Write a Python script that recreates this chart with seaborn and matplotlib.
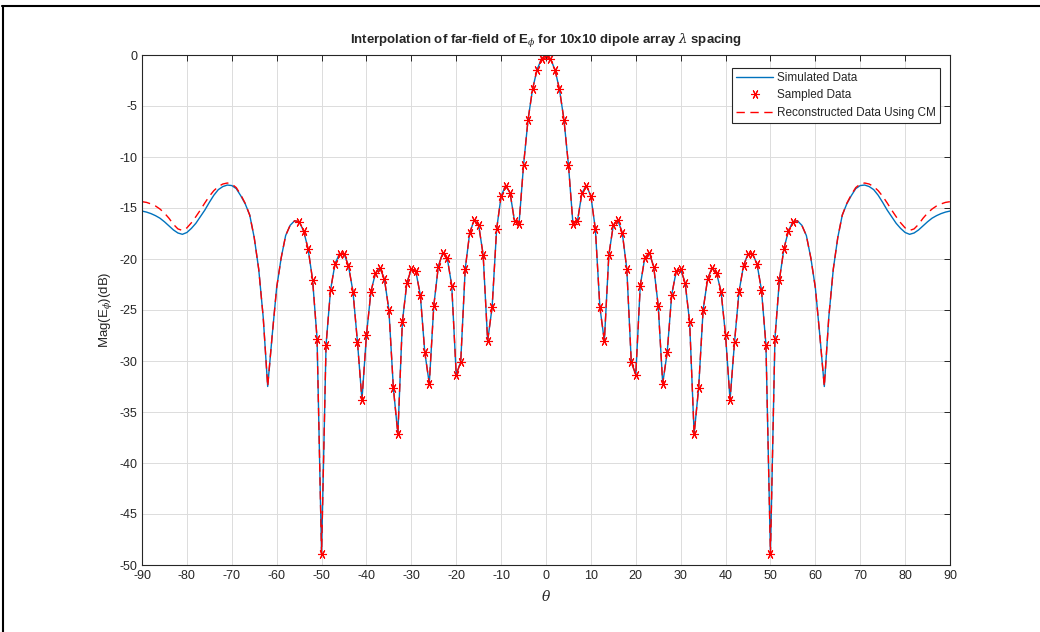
# plot.py
# Far-field interpolation of E_phi for a 10x10 dipole array (MATLAB-style look)

import numpy as np
import pandas as pd
import matplotlib
matplotlib.use("Agg")
import matplotlib.pyplot as plt
from matplotlib.lines import Line2D
import seaborn as sns

# Angles (deg)
theta = list(range(-90, 91))
theta_sampled = list(range(-55, 56))

# Simulated pattern (dB), one value per degree from -90 to 90
sim_db = [
    -15.30, -15.40, -15.55, -15.75, -16.00, -16.35, -16.75, -17.15, -17.45, -17.58,
    -17.40, -17.00, -16.50, -15.85, -15.20, -14.45, -13.75, -13.20, -12.90, -12.75,
    -12.80, -13.10, -13.80, -14.60, -15.70, -17.90, -21.00, -25.70, -32.50, -27.50,
    -22.80, -19.90, -17.70, -16.70, -16.25, -16.34, -17.25, -19.00, -22.03, -27.80,
    -48.90, -28.43, -23.04, -20.47, -19.48, -19.48, -20.67, -23.20, -28.14, -33.82,
    -27.47, -23.20, -21.40, -20.87, -21.95, -25.00, -32.65, -37.16, -26.18, -22.35,
    -21.00, -21.22, -23.52, -29.15, -32.22, -24.60, -20.77, -19.37, -19.90, -22.60,
    -31.34, -30.10, -20.98, -17.45, -16.18, -16.67, -19.60, -28.04, -24.72, -17.08,
    -13.84, -12.80, -13.53, -16.32, -16.52, -10.78, -6.34, -3.37, -1.44, -0.38,
    0.00,
    -0.38, -1.44, -3.37, -6.34, -10.78, -16.52, -16.32, -13.53, -12.80, -13.84,
    -17.08, -24.72, -28.04, -19.60, -16.67, -16.18, -17.45, -20.98, -30.10, -31.34,
    -22.60, -19.90, -19.37, -20.77, -24.60, -32.22, -29.15, -23.52, -21.22, -21.00,
    -22.35, -26.18, -37.16, -32.65, -25.00, -21.95, -20.87, -21.40, -23.20, -27.47,
    -33.82, -28.14, -23.20, -20.67, -19.48, -19.48, -20.47, -23.04, -28.43, -48.90,
    -27.80, -22.03, -19.00, -17.25, -16.34, -16.25, -16.70, -17.70, -19.90, -22.80,
    -27.50, -32.50, -25.70, -21.00, -17.90, -15.70, -14.60, -13.80, -13.10, -12.80,
    -12.75, -12.90, -13.20, -13.75, -14.45, -15.20, -15.85, -16.50, -17.00, -17.40,
    -17.58, -17.45, -17.15, -16.75, -16.35, -16.00, -15.75, -15.55, -15.40, -15.30,
]

# Sampled points (dB), -55 .. 55 deg
sampled_db = [
    -16.34, -17.25, -19.00, -22.03, -27.80,
    -48.90, -28.43, -23.04, -20.47, -19.48, -19.48, -20.67, -23.20, -28.14, -33.82,
    -27.47, -23.20, -21.40, -20.87, -21.95, -25.00, -32.65, -37.16, -26.18, -22.35,
    -21.00, -21.22, -23.52, -29.15, -32.22, -24.60, -20.77, -19.37, -19.90, -22.60,
    -31.34, -30.10, -20.98, -17.45, -16.18, -16.67, -19.60, -28.04, -24.72, -17.08,
    -13.84, -12.80, -13.53, -16.32, -16.52, -10.78, -6.34, -3.37, -1.44, -0.38,
    0.00,
    -0.38, -1.44, -3.37, -6.34, -10.78, -16.52, -16.32, -13.53, -12.80, -13.84,
    -17.08, -24.72, -28.04, -19.60, -16.67, -16.18, -17.45, -20.98, -30.10, -31.34,
    -22.60, -19.90, -19.37, -20.77, -24.60, -32.22, -29.15, -23.52, -21.22, -21.00,
    -22.35, -26.18, -37.16, -32.65, -25.00, -21.95, -20.87, -21.40, -23.20, -27.47,
    -33.82, -28.14, -23.20, -20.67, -19.48, -19.48, -20.47, -23.04, -28.43, -48.90,
    -27.80, -22.03, -19.00, -17.25, -16.34,
]

# Reconstructed pattern using CM (dB), -90 .. 90 deg
recon_db = [
    -14.38, -14.45, -14.60, -14.80, -15.10, -15.50, -16.00, -16.60, -17.05, -17.20,
    -16.95, -16.45, -15.85, -15.20, -14.50, -13.85, -13.30, -12.90, -12.65, -12.55,
    -12.65, -13.00, -13.70, -14.55, -15.70, -17.90, -21.00, -25.70, -32.50, -27.50,
    -22.80, -19.90, -17.70, -16.70, -16.25, -16.34, -17.25, -19.00, -22.03, -27.80,
    -48.90, -28.43, -23.04, -20.47, -19.48, -19.48, -20.67, -23.20, -28.14, -33.82,
    -27.47, -23.20, -21.40, -20.87, -21.95, -25.00, -32.65, -37.16, -26.18, -22.35,
    -21.00, -21.22, -23.52, -29.15, -32.22, -24.60, -20.77, -19.37, -19.90, -22.60,
    -31.34, -30.10, -20.98, -17.45, -16.18, -16.67, -19.60, -28.04, -24.72, -17.08,
    -13.84, -12.80, -13.53, -16.32, -16.52, -10.78, -6.34, -3.37, -1.44, -0.38,
    0.00,
    -0.38, -1.44, -3.37, -6.34, -10.78, -16.52, -16.32, -13.53, -12.80, -13.84,
    -17.08, -24.72, -28.04, -19.60, -16.67, -16.18, -17.45, -20.98, -30.10, -31.34,
    -22.60, -19.90, -19.37, -20.77, -24.60, -32.22, -29.15, -23.52, -21.22, -21.00,
    -22.35, -26.18, -37.16, -32.65, -25.00, -21.95, -20.87, -21.40, -23.20, -27.47,
    -33.82, -28.14, -23.20, -20.67, -19.48, -19.48, -20.47, -23.04, -28.43, -48.90,
    -27.80, -22.03, -19.00, -17.25, -16.34, -16.25, -16.70, -17.70, -19.90, -22.80,
    -27.50, -32.50, -25.70, -21.00, -17.90, -15.70, -14.55, -13.70, -13.00, -12.65,
    -12.55, -12.65, -12.90, -13.30, -13.85, -14.50, -15.20, -15.85, -16.45, -16.95,
    -17.20, -17.05, -16.60, -16.00, -15.50, -15.10, -14.80, -14.60, -14.45, -14.38,
]

df_full = pd.DataFrame({"theta": theta, "sim": sim_db, "recon": recon_db})
df_samp = pd.DataFrame({"theta": theta_sampled, "db": sampled_db})

sns.set_style("whitegrid")
plt.rcParams["font.family"] = ["Liberation Sans", "DejaVu Sans"]
plt.rcParams["mathtext.fontset"] = "dejavuserif"
plt.rcParams["axes.unicode_minus"] = False

fig = plt.figure(figsize=(10.4, 6.32), dpi=100)
ax = fig.add_axes([142 / 1040, 67 / 632, 808 / 1040, 510 / 632])

blue = "#0072BD"
red = "#FF0000"

sns.lineplot(data=df_full, x="theta", y="sim", ax=ax, color=blue,
             linewidth=1.0, label="Simulated Data")
sns.lineplot(data=df_samp, x="theta", y="db", ax=ax, color=red,
             linestyle="none", marker=(6, 2, 90), markersize=6.5,
             markeredgecolor=red, markeredgewidth=0.8, label="Sampled Data")
sns.lineplot(data=df_full, x="theta", y="recon", ax=ax, color=red,
             linewidth=1.0, linestyle=(0, (6, 4)), label="Reconstructed Data Using CM")

ax.set_xlim(-90, 90)
ax.set_ylim(-50, 0)
ax.set_xticks(np.arange(-90, 91, 10))
ax.set_yticks(np.arange(-50, 1, 5))

ax.grid(True, color="#dcdcdc", linewidth=0.7)
for s in ax.spines.values():
    s.set_color("#262626")
    s.set_linewidth(0.8)
ax.tick_params(axis="both", direction="in", length=4, width=0.7, colors="#262626",
               labelsize=9, top=True, right=True, labeltop=False, labelright=False)
for lab in ax.get_xticklabels() + ax.get_yticklabels():
    lab.set_color("#262626")

ax.set_title(r"Interpolation of far-field of E$_\phi$ for 10x10 dipole array $\lambda$ spacing",
             fontsize=9.5, fontweight="bold", pad=8)
ax.set_ylabel(r"Mag(E$_\phi$)(dB)", fontsize=9.5, color="#262626", labelpad=4)
ax.set_xlabel(r"$\theta$", fontsize=10, color="#262626", labelpad=5)

leg = ax.legend(loc="upper right", bbox_to_anchor=(1 - 10 / 808, 1 - 13 / 510),
                borderaxespad=0, fontsize=8.5,
                fancybox=False, framealpha=1, edgecolor="#262626",
                handlelength=3.2, labelspacing=0.45, borderpad=0.35, handletextpad=0.3)
leg.get_frame().set_linewidth(0.8)

# outer frame lines seen in the screenshot
fig.add_artist(Line2D([2 / 1040, 1.0], [1 - 6 / 632, 1 - 6 / 632], color="black", linewidth=1.5))
fig.add_artist(Line2D([3 / 1040, 3 / 1040], [0.0, 1 - 6 / 632], color="black", linewidth=1.5))

fig.savefig("out.png", dpi=100)
plt.close(fig)
